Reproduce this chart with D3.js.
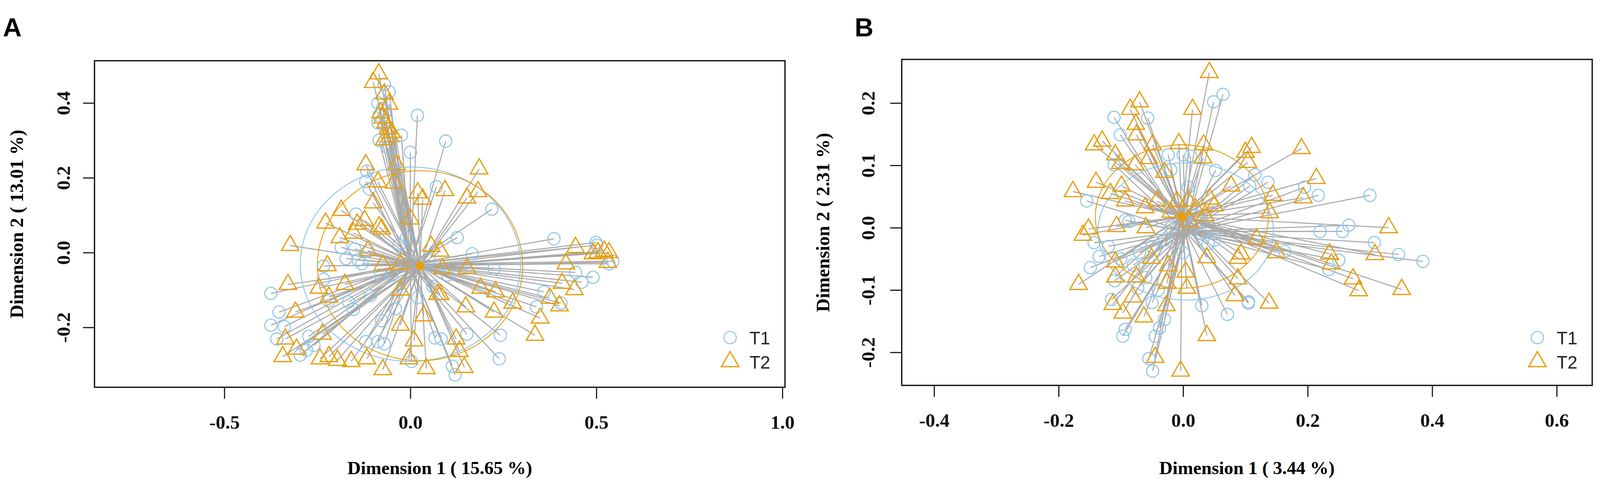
<!DOCTYPE html>
<html>
<head>
<meta charset="utf-8">
<script src="https://cdn.jsdelivr.net/npm/d3@7"></script>
<style>
  html, body { margin:0; padding:0; background:#fff; overflow:hidden; }
  #chart svg { display:block; width:100vw; height:100vh; }
</style>
</head>
<body>
<div id="chart"></div>
<script>
const width = 4317;
const height = 1269;

// Panel A  (Dimension 1, Dimension 2)
const aT1 = [
  [-0.070,0.450],[-0.057,0.430],[-0.087,0.400],[-0.075,0.385],[-0.084,0.367],[-0.087,0.347],[-0.065,0.355],[-0.084,0.300],[-0.024,0.314],[-0.060,0.280],
  [0.019,0.367],[0.095,0.298],[0.000,0.268],[-0.117,0.218],[-0.120,0.190],[-0.110,0.170],[0.070,0.176],[0.219,0.116],[-0.146,0.103],
  [-0.186,0.014],[-0.150,0.010],[-0.173,-0.016],[-0.140,-0.020],[-0.114,0.004],[-0.130,-0.030],[-0.233,-0.036],[-0.233,-0.072],
  [-0.375,-0.109],[-0.353,-0.159],[-0.375,-0.194],[-0.359,-0.231],[-0.339,-0.198],[-0.273,-0.224],[-0.279,-0.261],[-0.296,-0.274],[-0.259,-0.248],
  [-0.120,-0.238],[-0.087,-0.238],[-0.070,-0.244],[0.003,-0.291],[-0.010,0.040],[0.066,-0.228],[-0.219,-0.129],[-0.166,-0.132],[-0.107,-0.115],[-0.153,-0.152],[-0.077,-0.182],
  [0.126,0.040],[0.166,-0.003],[0.386,0.037],[0.501,0.020],[0.534,-0.030],[0.544,-0.023],[0.444,-0.053],[0.491,-0.066],[0.461,-0.079],[0.405,-0.135],[0.339,-0.145],[0.359,-0.105],
  [0.242,-0.221],[0.239,-0.284],[0.152,-0.218],[0.113,-0.304],[0.120,-0.327],[0.083,-0.231],[0.499,0.027],[0.225,-0.043],
  [-0.050,-0.060],[0.050,-0.020],[-0.030,0.020],[0.100,-0.060],[-0.080,-0.060],[0.060,-0.090],[0.020,-0.120],[-0.040,-0.150]
];
const aT2 = [
  [-0.085,0.478],[-0.100,0.455],[-0.070,0.424],[-0.057,0.397],[-0.080,0.374],[-0.067,0.347],[-0.060,0.331],[-0.070,0.302],[-0.050,0.321],[-0.075,0.360],[-0.055,0.310],
  [-0.120,0.235],[-0.037,0.235],[0.185,0.224],[-0.087,0.189],[-0.044,0.186],[0.020,0.160],[0.033,0.143],[0.093,0.166],[0.152,0.146],[0.182,0.163],
  [-0.100,0.133],[-0.186,0.113],[-0.228,0.079],[-0.123,0.086],[0.000,0.090],[-0.143,0.076],[-0.084,0.069],[-0.323,0.019],[-0.190,0.040],[-0.153,0.052],[-0.077,0.063],
  [-0.223,-0.035],[-0.329,-0.085],[-0.114,0.005],[-0.027,-0.031],[-0.074,-0.033],[-0.176,-0.085],[-0.246,-0.095],[-0.219,-0.119],[-0.309,-0.159],
  [-0.336,-0.231],[-0.306,-0.258],[-0.343,-0.278],[-0.236,-0.218],[-0.243,-0.284],[-0.219,-0.278],[-0.196,-0.288],[-0.159,-0.291],[-0.117,-0.284],[-0.074,-0.313],[0.043,-0.310],[-0.004,-0.284],
  [-0.027,-0.194],[0.036,-0.169],[0.010,-0.236],[-0.027,-0.100],[0.073,-0.112],[0.056,0.017],
  [0.444,0.014],[0.491,-0.003],[0.504,0.000],[0.521,0.004],[0.534,0.000],[0.531,-0.026],[0.418,-0.030],[0.408,-0.082],[0.441,-0.099],[0.375,-0.122],[0.401,-0.142],[0.349,-0.175],[0.335,-0.221],
  [0.275,-0.135],[0.225,-0.159],[0.149,-0.145],[0.189,-0.095],[0.229,-0.105],[0.152,-0.043],[0.086,-0.043],[0.080,-0.112],[0.080,0.004],[0.123,-0.231],[0.132,-0.264],[0.145,-0.307]
];
const aCentroids = [[0.000,-0.031],[0.026,-0.035]];
const aSpread = [[0.296,0.260],[0.276,0.254]];   // ellipse radii, T1 then T2
const aXTicks = [-0.5,0.0,0.5,1.0];
const aYTicks = [-0.2,0.0,0.2,0.4];

// Panel B
const bT1 = [
  [0.064,0.214],[0.049,0.202],[-0.111,0.177],[-0.057,0.176],[-0.101,0.149],[-0.024,0.117],[0.000,0.117],[0.012,0.115],[-0.020,0.093],[0.052,0.092],[-0.111,0.101],[-0.155,0.043],[0.008,0.065],[-0.093,0.012],
  [-0.135,-0.046],[-0.149,-0.064],[-0.143,-0.024],[-0.115,-0.115],[-0.093,-0.163],[-0.097,-0.174],[-0.045,-0.174],[-0.038,-0.161],[-0.030,-0.147],[-0.055,-0.210],[-0.049,-0.230],[0.030,-0.125],[0.071,-0.139],[0.040,-0.026],[-0.073,-0.097],[-0.087,0.010],[0.105,-0.121],
  [0.136,0.073],[0.107,0.067],[0.195,0.065],[0.217,0.052],[0.300,0.052],[0.220,-0.006],[0.256,-0.006],[0.266,0.004],[0.307,-0.024],[0.346,-0.043],[0.385,-0.054],[0.250,-0.052],[0.234,-0.067],[0.163,-0.038],[0.105,-0.119],[0.115,0.085],
  [0.030,-0.010],[-0.030,-0.020],[0.020,0.020],[-0.020,0.000],[0.050,-0.020],[-0.050,-0.030],[0.000,-0.040],
  [-0.120,-0.030],[-0.100,-0.050],[-0.080,-0.060],[-0.060,-0.080],[-0.110,-0.085],[-0.070,-0.040],[-0.040,-0.100],[-0.050,-0.120]
];
const bT2 = [
  [0.042,0.249],[0.015,0.190],[-0.070,0.202],[-0.085,0.190],[-0.076,0.166],[-0.075,0.149],[-0.130,0.139],[-0.143,0.133],[-0.007,0.135],[0.033,0.133],[0.032,0.112],[-0.049,0.133],
  [-0.109,0.117],[-0.101,0.103],[-0.077,0.101],[-0.055,0.111],[-0.030,0.089],[-0.140,0.073],[-0.177,0.058],[0.077,0.067],[0.043,0.046],[-0.099,0.067],[-0.117,0.055],[-0.093,0.043],
  [-0.061,0.032],[-0.042,0.043],[-0.010,0.042],[0.008,0.043],[-0.152,-0.002],[-0.161,-0.012],[-0.107,0.002],[-0.060,0.000],[0.100,0.121],
  [-0.168,-0.091],[-0.109,-0.055],[-0.109,-0.079],[-0.113,-0.123],[-0.097,-0.137],[-0.063,-0.143],[-0.075,-0.079],[-0.081,-0.111],[-0.051,-0.049],[-0.024,-0.061],[-0.026,-0.089],[-0.027,-0.125],
  [0.004,-0.071],[0.006,-0.097],[0.038,-0.048],[0.088,-0.049],[0.088,-0.082],[0.083,-0.109],[0.038,-0.173],[-0.045,-0.208],[-0.004,-0.230],
  [0.110,0.129],[0.190,0.127],[0.214,0.079],[0.104,0.105],[0.144,0.052],[0.193,0.048],[0.139,0.024],[0.118,-0.018],[0.150,-0.040],[0.235,-0.042],[0.238,-0.058],
  [0.330,0.000],[0.308,-0.043],[0.273,-0.082],[0.282,-0.101],[0.351,-0.099],[0.138,-0.121],[0.093,-0.042],
  [0.020,0.030],[0.035,0.020],[-0.020,0.025],[0.010,0.010],[0.050,0.035]
];
const bCentroids = [[0.004,-0.006],[-0.002,0.018]];
const bSpread = [[0.141,0.110],[0.139,0.115]];
const bXTicks = [-0.4,-0.2,0.0,0.2,0.4,0.6];
const bYTicks = [-0.2,-0.1,0.0,0.1,0.2];

const groups = ["T1","T2"];
const colors = ["#8cc5e8","#e69f12"];
const segColor = "#a9a9a9";
const serif = "'Liberation Serif','Times New Roman',serif";
const sans = "'Liberation Sans',Arial,sans-serif";

const svg = d3.select("#chart").append("svg")
  .attr("viewBox",`0 0 ${width} ${height}`)
  .attr("preserveAspectRatio","xMidYMid meet")
  .style("background","#fff");

const tri = d3.symbol().type(d3.symbolTriangle).size(960);

function drawPanel(p){
  const x = d3.scaleLinear().domain(p.xDomain).range(p.xRange);
  const y = d3.scaleLinear().domain(p.yDomain).range(p.yRange);
  const g = svg.append("g");
  const sets = [p.t1,p.t2];

  // T1 centroid sits under the spokes
  g.append("circle")
    .attr("cx",x(p.centroids[0][0])).attr("cy",y(p.centroids[0][1]))
    .attr("r",12).attr("fill",colors[0]);

  // spokes to group centroids
  sets.forEach((pts,k)=>{
    g.append("g").selectAll("line")
      .data(pts).enter().append("line")
      .attr("x1",d=>x(d[0])).attr("y1",d=>y(d[1]))
      .attr("x2",x(p.centroids[k][0])).attr("y2",y(p.centroids[k][1]))
      .attr("stroke",segColor).attr("stroke-width",2.8);
  });

  // dispersion ellipses
  const angles = d3.range(0,361,3).map(a=>a*Math.PI/180);
  p.spread.forEach((r,k)=>{
    const c = p.centroids[k];
    g.append("path")
      .datum(angles)
      .attr("d",d3.line()
        .x(a=>x(c[0]+r[0]*Math.cos(a)))
        .y(a=>y(c[1]+r[1]*Math.sin(a))))
      .attr("fill","none").attr("stroke",colors[k]).attr("stroke-width",2.4);
  });

  g.append("g").selectAll("circle")
    .data(p.t1).enter().append("circle")
    .attr("cx",d=>x(d[0])).attr("cy",d=>y(d[1])).attr("r",16.5)
    .attr("fill","none").attr("stroke",colors[0]).attr("stroke-width",2.8);

  g.append("g").selectAll("path")
    .data(p.t2).enter().append("path")
    .attr("d",tri)
    .attr("transform",d=>`translate(${x(d[0])},${y(d[1])})`)
    .attr("fill","none").attr("stroke",colors[1]).attr("stroke-width",3.4);

  g.append("circle")
    .attr("cx",x(p.centroids[1][0])).attr("cy",y(p.centroids[1][1]))
    .attr("r",12).attr("fill",colors[1]);

  // frame
  g.append("rect")
    .attr("x",p.xRange[0]).attr("y",p.yRange[1])
    .attr("width",p.xRange[1]-p.xRange[0]).attr("height",p.yRange[0]-p.yRange[1])
    .attr("fill","none").attr("stroke","#111").attr("stroke-width",3.5);

  const fmt = d=>d.toFixed(1);

  g.append("g")
    .attr("transform",`translate(0,${p.yRange[0]})`)
    .call(d3.axisBottom(x).tickValues(p.xTicks).tickFormat(fmt).tickSize(31).tickSizeOuter(0))
    .call(a=>a.select(".domain").remove())
    .call(a=>a.selectAll("line").attr("stroke","#111").attr("stroke-width",3))
    .call(a=>a.selectAll("text")
      .attr("y",112).attr("dy",null)
      .style("font-family",serif).style("font-weight","bold").style("font-size","52px").attr("fill","#111"));

  g.append("g")
    .attr("transform",`translate(${p.xRange[0]},0)`)
    .call(d3.axisLeft(y).tickValues(p.yTicks).tickFormat(fmt).tickSize(31).tickSizeOuter(0))
    .call(a=>a.select(".domain").remove())
    .call(a=>a.selectAll("line").attr("stroke","#111").attr("stroke-width",3))
    .call(a=>a.selectAll("text")
      .attr("x",0).attr("dy",null).attr("text-anchor","middle")
      .attr("transform",`translate(${-p.yTickOff},0) rotate(-90)`)
      .style("font-family",serif).style("font-weight","bold").style("font-size","52px").attr("fill","#111"));

  // axis titles
  g.append("text")
    .attr("x",(p.xRange[0]+p.xRange[1])/2).attr("y",1244)
    .attr("text-anchor","middle")
    .style("font-family",serif).style("font-weight","bold").style("font-size","50px")
    .text(p.xTitle);

  g.append("text")
    .attr("transform",`translate(${p.yTitleX},${(p.yRange[0]+p.yRange[1])/2})rotate(-90)`)
    .attr("text-anchor","middle")
    .style("font-family",serif).style("font-weight","bold").style("font-size","51px")
    .text(p.yTitle);

  // panel letter
  g.append("text")
    .attr("x",p.letterX).attr("y",64)
    .style("font-family",sans).style("font-weight","bold").style("font-size","70px")
    .text(p.letter);

  // legend
  const lx = p.xRange[1]-148;
  g.append("circle").attr("cx",lx).attr("cy",876).attr("r",16.5)
    .attr("fill","none").attr("stroke",colors[0]).attr("stroke-width",2.8);
  g.append("path").attr("d",tri).attr("transform",`translate(${lx},941)`)
    .attr("fill","none").attr("stroke",colors[1]).attr("stroke-width",3.4);
  groups.forEach((t,i)=>{
    g.append("text")
      .attr("x",lx+52).attr("y",894+i*66)
      .style("font-family",sans).style("font-size","48px").attr("fill","#222")
      .text(t);
  });
}

drawPanel({
  t1:aT1, t2:aT2, centroids:aCentroids, spread:aSpread,
  xTicks:aXTicks, yTicks:aYTicks,
  xDomain:[-0.849,1.007], xRange:[255,2118],
  yDomain:[-0.360,0.513], yRange:[1010,129.5],
  yTickOff:66, yTitleX:62, letter:"A", letterX:8,
  xTitle:"Dimension 1 ( 15.65 %)", yTitle:"Dimension 2 ( 13.01 %)"
});

drawPanel({
  t1:bT1, t2:bT2, centroids:bCentroids, spread:bSpread,
  xTicks:bXTicks, yTicks:bYTicks,
  xDomain:[-0.452,0.657], xRange:[2433,4296],
  yDomain:[-0.253,0.270], yRange:[1005,126],
  yTickOff:73, yTitleX:2238, letter:"B", letterX:2306,
  xTitle:"Dimension 1 ( 3.44 %)", yTitle:"Dimension 2 ( 2.31 %)"
});
</script>
</body>
</html>
